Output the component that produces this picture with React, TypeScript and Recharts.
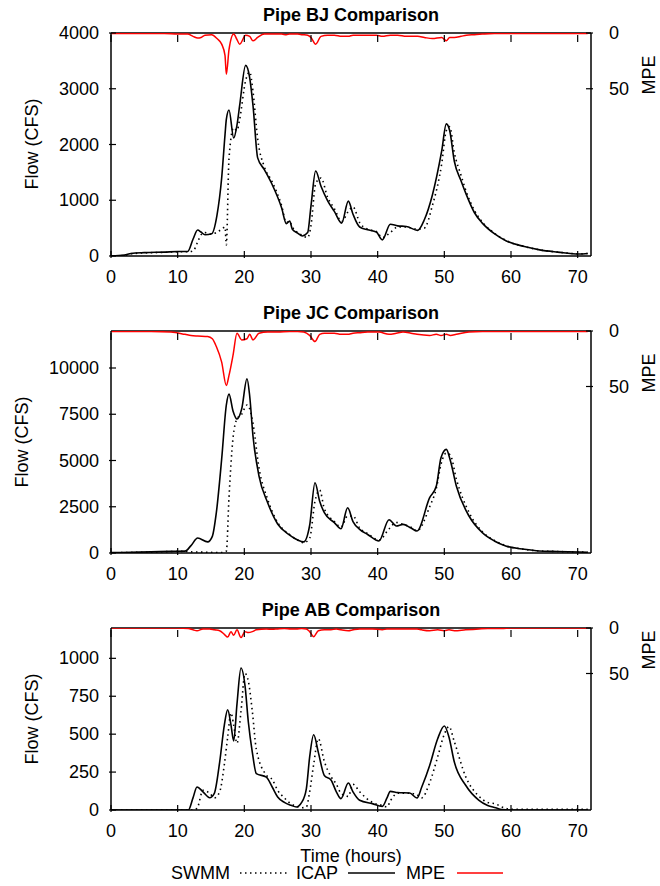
import React from "react";
import { ComposedChart, Line, XAxis, YAxis, ReferenceLine } from "recharts";

const X_TICKS = [0, 10, 20, 30, 40, 50, 60, 70];
const MPE_TICKS = [0, 50];

// Pipe BJ
const bjTime = [0, 2, 3, 5, 8, 10, 11.5, 12.3, 13, 13.5, 14.1, 15.1, 15.9, 16.6, 17.1, 17.3, 17.7, 18.4, 18.9, 19.3, 20.2, 20.8, 21.3, 22, 23, 24.1, 25.6, 26.3, 26.8, 27.2, 28, 28.7, 29.5, 30, 30.7, 31.5, 32.5, 33.5, 34.6, 35.6, 36.3, 37.3, 38.5, 39.8, 40.7, 41.9, 43, 44.3, 46, 47, 48.2, 49.6, 50.3, 50.8, 51.5, 52.5, 53.3, 54.5, 55.7, 57.5, 59.3, 62, 64.3, 67, 70.2, 71.5];
const bjSwmm = [0, 10, 40, 55, 65, 75, 75, 90, 250, 380, 420, 390, 430, 480, 520, 200, 1750, 2300, 2250, 2450, 3150, 3300, 2950, 2100, 1600, 1350, 900, 600, 620, 520, 420, 370, 330, 550, 1300, 1400, 1050, 850, 620, 800, 880, 600, 480, 440, 330, 420, 520, 520, 480, 500, 900, 1650, 2250, 2320, 1850, 1450, 1150, 820, 610, 410, 275, 170, 110, 70, 40, 45];
const bjIcap = [0, 15, 45, 60, 70, 80, 80, 300, 466, 430, 380, 400, 735, 1400, 2170, 2450, 2620, 2117, 2350, 2700, 3420, 3200, 2700, 1760, 1550, 1300, 860, 580, 628, 480, 410, 360, 420, 900, 1525, 1250, 990, 800, 590, 985, 750, 520, 470, 430, 290, 570, 540, 530, 460, 650, 1090, 1880, 2370, 2250, 1700, 1350, 1100, 780, 590, 400, 270, 170, 110, 70, 35, 45];
const bjMpe = [0.5, 0.5, 0.5, 0.5, 0.5, 1, 1, 3, 4.5, 4, 2, 1.5, 5, 10, 20, 37, 15, 1, 6, 10, 2, 3, 7, 4, 1, 1, 1, 1.5, 1, 1, 1, 1.5, 2, 4, 10, 3, 2, 2, 3, 3, 2, 2, 2, 2, 3, 2, 2, 3, 3, 4, 5, 4, 7, 4, 4, 3, 2, 1.5, 1, 0.5, 0.5, 0.5, 0.5, 0.5, 0.5, 0.5];

// Pipe JC
const jcTime = [0, 3, 6, 9, 11.1, 12, 13, 14.5, 15.2, 15.8, 16.6, 17.3, 17.7, 18.3, 18.9, 19.6, 20.4, 20.8, 21.3, 22.2, 23.5, 25, 26.8, 28, 28.9, 29.8, 30.6, 31.3, 32, 33.5, 34.5, 35.5, 36.3, 37.3, 38.5, 40.2, 41.7, 42.8, 43.8, 45, 45.9, 47.8, 48.8, 49.5, 50.3, 50.9, 51.8, 53.7, 55.7, 57.5, 59.2, 62, 64.2, 67, 70.2, 71.5];
const jcSwmm = [10, 30, 50, 80, 90, 60, 50, 40, 30, 20, 20, 100, 3000, 6200, 7250, 7500, 8000, 7800, 7000, 4600, 2900, 1650, 1000, 700, 550, 800, 2800, 3400, 2400, 1700, 1400, 2000, 2000, 1350, 1050, 700, 1300, 1650, 1550, 1400, 1200, 2500, 3500, 4800, 5400, 5300, 4000, 2200, 1150, 680, 400, 200, 110, 80, 50, 40];
const jcIcap = [20, 40, 60, 90, 100, 400, 810, 600, 900, 2180, 5080, 8000, 8590, 7680, 7240, 7780, 9420, 8500, 6320, 4160, 2720, 1570, 970, 700, 600, 1500, 3800, 2800, 2180, 1640, 1310, 2450, 1700, 1280, 1000, 650, 1800, 1460, 1550, 1350, 1190, 2990, 3620, 5150, 5600, 5000, 3620, 2000, 1100, 650, 380, 200, 110, 80, 50, 40];
const jcMpe = [0.5, 0.5, 0.5, 1, 3, 4, 4.5, 5, 7, 14, 28, 49, 40, 22, 2, 8, 7, 3, 8, 2, 1, 1, 0.5, 0.5, 1, 4, 9.5, 3, 2, 2, 3, 3, 2, 1.5, 1, 1, 3, 2, 1, 2, 3, 4, 3, 4, 3, 4, 3, 1, 0.5, 0.5, 0.5, 0.5, 0.5, 0.5, 0.5, 0.5];

// Pipe AB
const abTime = [0, 5, 10, 11.6, 12.3, 12.9, 13.8, 14.8, 15.5, 16.3, 17, 17.5, 18, 18.4, 18.9, 19.5, 20.1, 20.6, 21.2, 21.8, 23.3, 24.2, 25, 26, 27, 27.8, 28.6, 29.3, 29.8, 30.4, 31.1, 32, 33, 33.8, 34.5, 35.6, 36.3, 37.3, 39.2, 40.7, 41.4, 41.9, 43, 44.8, 45.9, 46.6, 47.8, 49, 50, 50.7, 51.5, 53.2, 55.2, 56.5, 57.7, 58.6, 60, 65, 70, 71.5];
const abSwmm = [0, 0, 0, 0, 0, 10, 130, 110, 80, 120, 300, 480, 640, 560, 440, 650, 900, 850, 650, 400, 230, 200, 130, 80, 40, 25, 15, 20, 120, 300, 470, 320, 220, 170, 110, 90, 170, 120, 50, 30, 20, 60, 110, 110, 100, 80, 180, 350, 500, 550, 450, 220, 90, 50, 40, 20, 5, 5, 5, 5];
const abIcap = [0, 0, 0, 0, 80, 152, 120, 81, 110, 316, 560, 661, 560, 455, 700, 936, 820, 580, 380, 240, 217, 150, 86, 50, 31, 20, 50, 140, 350, 496, 380, 228, 198, 120, 75, 178, 120, 64, 42, 24, 80, 123, 115, 112, 79, 150, 294, 470, 554, 480, 316, 163, 64, 30, 15, 3, 0, 0, 0, 0];
const abMpe = [0, 0, 0, 0.5, 2, 3, 1, 1, 2, 3, 7, 10, 4, 8, 2, 10.5, 4, 5, 4, 2, 1, 1.5, 1, 0.5, 1, 1, 0.5, 1, 4, 9.5, 3, 2, 2, 1, 2, 3, 2, 1, 1, 2, 1, 1, 1, 1, 1, 2, 3, 2, 3, 2, 3, 2, 1, 0.5, 0.5, 0.5, 0, 0, 0, 0];

const FONT = '"Liberation Sans", Arial, Helvetica, sans-serif';
const FS = 18;
const WIDTH = 660;
const LEFT_W = 111;
const RIGHT_W = 69;
const TICK_IN = 7;

const toRows = (time: number[], swmm: number[], icap: number[], mpe: number[]) =>
  time.map((t, i) => ({ t, swmm: swmm[i], icap: icap[i], mpe: mpe[i] }));

interface PanelProps {
  rows: { t: number; swmm: number; icap: number; mpe: number }[];
  yMax: number;
  yTicks: number[];
  top: number;
  height: number;
  plotTop: number;
  plotHeight: number;
}

function Panel({ rows, yMax, yTicks, top, height, plotTop, plotHeight }: PanelProps) {
  const xAxisH = height - plotTop - plotHeight;

  // gnuplot style: ticks point inward, x ticks mirrored on the top border
  const xTick = (p: any) => (
    <g>
      <line x1={p.x} y1={p.y} x2={p.x} y2={p.y - TICK_IN} stroke="#000" strokeWidth={1.2} />
      <line x1={p.x} y1={p.y - plotHeight} x2={p.x} y2={p.y - plotHeight + TICK_IN} stroke="#000" strokeWidth={1.2} />
      <text x={p.x} y={p.y + 19} textAnchor="middle" dominantBaseline="central" fontFamily={FONT} fontSize={FS} fill="#000">
        {p.payload.value}
      </text>
    </g>
  );
  const leftTick = (p: any) => (
    <g>
      <line x1={p.x} y1={p.y} x2={p.x + TICK_IN} y2={p.y} stroke="#000" strokeWidth={1.2} />
      <text x={p.x - 10} y={p.y} textAnchor="end" dominantBaseline="central" fontFamily={FONT} fontSize={FS} fill="#000">
        {p.payload.value}
      </text>
    </g>
  );
  const rightTick = (p: any) => (
    <g>
      <line x1={p.x} y1={p.y} x2={p.x - TICK_IN} y2={p.y} stroke="#000" strokeWidth={1.2} />
      <text x={p.x + 16} y={p.y} textAnchor="start" dominantBaseline="central" fontFamily={FONT} fontSize={FS} fill="#000">
        {p.payload.value}
      </text>
    </g>
  );

  return (
    <div style={{ position: "absolute", left: 0, top, width: WIDTH, height }}>
      <ComposedChart
        width={WIDTH}
        height={height}
        data={rows}
        margin={{ top: plotTop, right: 0, bottom: 0, left: 0 }}
      >
        <XAxis
          dataKey="t"
          type="number"
          domain={[0, 72]}
          ticks={X_TICKS}
          interval={0}
          height={xAxisH}
          tickSize={0}
          tickLine={false}
          tick={xTick}
          axisLine={{ stroke: "#000", strokeWidth: 1.5 }}
        />
        <YAxis
          yAxisId="flow"
          type="number"
          domain={[0, yMax]}
          ticks={yTicks}
          interval={0}
          width={LEFT_W}
          tickSize={0}
          tickLine={false}
          tick={leftTick}
          axisLine={{ stroke: "#000", strokeWidth: 1.5 }}
          allowDataOverflow
        />
        <YAxis
          yAxisId="mpe"
          orientation="right"
          type="number"
          reversed
          domain={[0, 200]}
          ticks={MPE_TICKS}
          interval={0}
          width={RIGHT_W}
          tickSize={0}
          tickLine={false}
          tick={rightTick}
          axisLine={{ stroke: "#000", strokeWidth: 1.5 }}
          allowDataOverflow
        />
        <ReferenceLine yAxisId="flow" y={yMax} stroke="#000" strokeWidth={1.5} />
        <Line
          yAxisId="flow"
          type="monotone"
          dataKey="swmm"
          stroke="#000"
          strokeWidth={1.6}
          strokeDasharray="1.5 3.5"
          dot={false}
          isAnimationActive={false}
        />
        <Line
          yAxisId="flow"
          type="monotone"
          dataKey="icap"
          stroke="#000"
          strokeWidth={1.6}
          dot={false}
          isAnimationActive={false}
        />
        <Line
          yAxisId="mpe"
          type="monotone"
          dataKey="mpe"
          stroke="#ff0000"
          strokeWidth={1.5}
          dot={false}
          isAnimationActive={false}
        />
      </ComposedChart>
    </div>
  );
}

export default function App() {
  const txt = { fontFamily: FONT, fontSize: FS, fill: "#000" };
  const title = { ...txt, fontWeight: "bold" as const };
  return (
    <div style={{ position: "absolute", left: 0, top: 0, width: 660, height: 886, background: "#fff" }}>
      <Panel rows={toRows(bjTime, bjSwmm, bjIcap, bjMpe)} yMax={4000} yTicks={[0, 1000, 2000, 3000, 4000]} top={0} height={300} plotTop={33} plotHeight={223} />
      <Panel rows={toRows(jcTime, jcSwmm, jcIcap, jcMpe)} yMax={12000} yTicks={[0, 2500, 5000, 7500, 10000]} top={300} height={290} plotTop={31} plotHeight={222} />
      <Panel rows={toRows(abTime, abSwmm, abIcap, abMpe)} yMax={1200} yTicks={[0, 250, 500, 750, 1000]} top={590} height={296} plotTop={38} plotHeight={182} />
      <svg width={660} height={886} style={{ position: "absolute", left: 0, top: 0, pointerEvents: "none" }}>
        <text x={351} y={15} textAnchor="middle" dominantBaseline="central" {...title}>Pipe BJ Comparison</text>
        <text x={351} y={313} textAnchor="middle" dominantBaseline="central" {...title}>Pipe JC Comparison</text>
        <text x={351} y={610} textAnchor="middle" dominantBaseline="central" {...title}>Pipe AB Comparison</text>

        <text transform="translate(32,144) rotate(-90)" textAnchor="middle" dominantBaseline="central" {...txt}>Flow (CFS)</text>
        <text transform="translate(22,442) rotate(-90)" textAnchor="middle" dominantBaseline="central" {...txt}>Flow (CFS)</text>
        <text transform="translate(32,719) rotate(-90)" textAnchor="middle" dominantBaseline="central" {...txt}>Flow (CFS)</text>

        <text transform="translate(649,75) rotate(-90)" textAnchor="middle" dominantBaseline="central" {...txt}>MPE</text>
        <text transform="translate(649,373) rotate(-90)" textAnchor="middle" dominantBaseline="central" {...txt}>MPE</text>
        <text transform="translate(649,650) rotate(-90)" textAnchor="middle" dominantBaseline="central" {...txt}>MPE</text>

        <text x={351} y={856} textAnchor="middle" dominantBaseline="central" {...txt}>Time (hours)</text>

        <text x={230} y={873} textAnchor="end" dominantBaseline="central" {...txt}>SWMM</text>
        <line x1={240} y1={873} x2={289} y2={873} stroke="#000" strokeWidth={1.6} strokeDasharray="1.5 3.5" />
        <text x={338} y={873} textAnchor="end" dominantBaseline="central" {...txt}>ICAP</text>
        <line x1={348} y1={873} x2={395} y2={873} stroke="#000" strokeWidth={1.6} />
        <text x={445} y={873} textAnchor="end" dominantBaseline="central" {...txt}>MPE</text>
        <line x1={457} y1={873} x2={503} y2={873} stroke="#ff0000" strokeWidth={1.5} />
      </svg>
    </div>
  );
}
